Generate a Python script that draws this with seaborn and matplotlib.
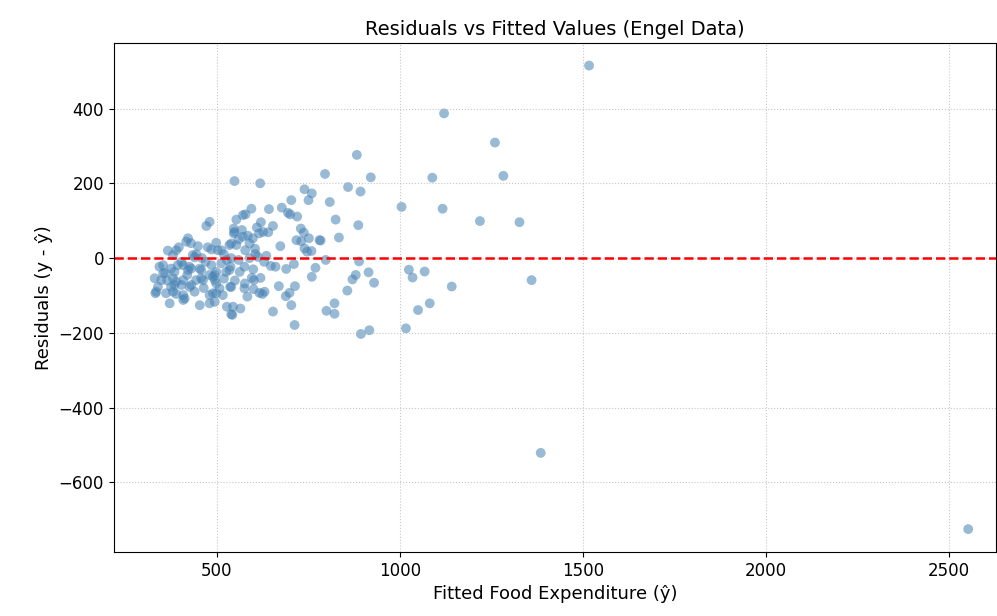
import numpy as np
import pandas as pd
import matplotlib
matplotlib.use("Agg")
import matplotlib.pyplot as plt
import seaborn as sns

# fitted values (x) and residuals (y)
fitted = [
    883, 796, 921, 859, 893, 809, 1005, 825, 887, 834, 784, 798, 889, 880, 871,
    915, 930, 857, 1025, 1035, 1068, 822, 800, 822, 917, 894, 1050, 1017, 1082,
    1517, 1121, 1260, 1089, 1283, 1117, 1219, 1327, 1360, 1142, 1385, 2552,
    549, 619, 740, 760, 751, 704, 595, 643, 678, 695, 701, 720, 572, 579, 554,
    621, 654, 730, 738, 752, 718, 731, 781, 547, 547, 569, 572, 610, 616, 627,
    641, 599, 590, 540, 554, 578, 606, 613, 636, 648, 674, 740, 747, 759, 576,
    563, 538, 770, 690, 711, 760, 596, 602, 620, 577, 540, 576, 601, 584, 617,
    631, 625, 670, 714, 699, 689, 704, 565, 540, 545, 654, 713,
    481, 472, 549, 422, 417, 449, 476, 486, 499, 503, 513, 535, 367, 390, 397,
    381, 435, 440, 354, 344, 404, 409, 426, 431, 422, 454, 458, 376, 385, 394,
    513, 528, 486, 499, 495, 526, 535, 331, 354, 349, 381, 390, 385, 409, 404,
    431, 426, 444, 458, 463, 481, 490, 495, 499, 508, 537, 340, 335, 333, 362,
    376, 381, 390, 409, 409, 413, 372, 481, 490, 499, 495, 517, 481, 454, 528,
    543,
    430, 445, 460, 470, 520, 560, 585, 605, 630, 560, 590, 600, 465, 440, 360,
    365, 420, 550, 520, 540, 661,
]
residuals = [
    276, 225, 216, 190, 178, 150, 137, 103, 88, 55, 47, -5, -9, -45, -57,
    -38, -66, -87, -31, -52, -36, -121, -141, -149, -193, -203, -139, -188, -121,
    515, 387, 309, 215, 220, 132, 99, 96, -59, -76, -521, -725,
    206, 200, 184, 173, 155, 155, 132, 131, 135, 121, 117, 111, 115, 117, 103,
    96, 86, 79, 68, 53, 48, 45, 48, 79, 66, 75, 57, 82, 66, 70,
    69, 53, 39, 39, 35, 21, 11, 3, 6, -21, 32, 26, 17, 19, -23,
    -37, -23, -26, -29, -16, -50, -53, -59, -53, -68, -77, -81, -83, -103, -93,
    -90, -96, -75, -75, -93, -102, -126, -135, -150, -130, -143, -179,
    97, 86, 70, 53, 44, 32, 29, 23, 41, 21, 21, 35, 20, 21, 29,
    8, 8, 2, -19, -23, -10, -19, -23, -28, -32, -28, -32, -28, -37, -19,
    -14, -5, -19, -37, -45, -37, -32, -54, -41, -59, -54, -63, -72, -59, -72,
    -72, -77, -59, -54, -59, -45, -50, -59, -68, -81, -77, -77, -90, -94, -94,
    -77, -90, -96, -99, -112, -108, -121, -99, -94, -94, -117, -99, -121, -126, -130,
    -152,
    40, 10, 0, -10, 10, 50, 60, 25, -10, -5, 0, -30, -80, -90, -40,
    -60, -45, -60, -55, 0, -23,
]

df = pd.DataFrame({"fitted": fitted, "resid": residuals})

fig, ax = plt.subplots(figsize=(9.97, 6.16), dpi=100)
fig.subplots_adjust(left=0.114, right=0.999, top=0.930, bottom=0.104)

sns.scatterplot(data=df, x="fitted", y="resid", color="steelblue",
                alpha=0.55, s=50, edgecolor="none", ax=ax)
ax.axhline(0, color="red", linestyle="--", linewidth=1.8)

ax.set_xlim(219, 2628)
ax.set_ylim(-786, 575)
ax.set_xticks([500, 1000, 1500, 2000, 2500])
ax.set_yticks([-600, -400, -200, 0, 200, 400])
ax.grid(True, linestyle=":", color="#b0b0b0", alpha=0.7)

ax.set_title("Residuals vs Fitted Values (Engel Data)", fontsize=14)
ax.set_xlabel("Fitted Food Expenditure (ŷ)", fontsize=13)
ax.set_ylabel("Residuals (y - ŷ)", fontsize=13)
ax.tick_params(labelsize=12)

fig.savefig("out.png", dpi=100)
